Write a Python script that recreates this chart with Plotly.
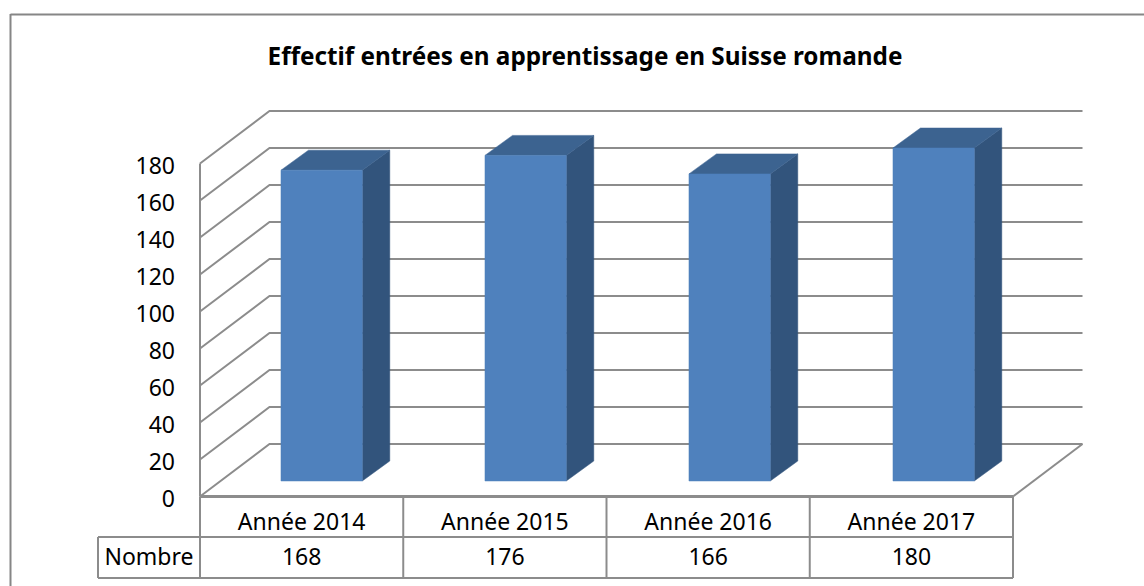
import plotly.graph_objects as go

title = "Effectif entrées en apprentissage en Suisse romande"
categories = ["Année 2014", "Année 2015", "Année 2016", "Année 2017"]
values = [168, 176, 166, 180]
row_label = "Nombre"
y_ticks = [0, 20, 40, 60, 80, 100, 120, 140, 160, 180]

W, H = 1144, 586
X0_PX, Y0_PX = 200.0, 496.5     # pixel of (category 0, value 0)
CAT_PX, VAL_PX = 203.25, 1.85   # pixels per category / per unit
DX, DY = 69.5 / CAT_PX, 52.5 / VAL_PX       # chart depth in data units
BAR_W = 0.4
BAR_PITCH = 204 / CAT_PX
BAR_SHIFT_X, BAR_SHIFT_Y = 20.0 / CAT_PX, 15.5 / VAL_PX
BAR_DX, BAR_DY = 27.5 / CAT_PX, 20 / VAL_PX
ROW1, ROW2 = -40.5 / VAL_PX, -81.5 / VAL_PX
ROW1_TEXT, ROW2_TEXT = -27.5 / VAL_PX, -62.5 / VAL_PX
LABEL_X = (98 - X0_PX) / CAT_PX

GRID = "#8c8c8c"
TEXT = "#000000"
FONT = "Noto Sans"
FRONT, TOP, SIDE = "#4f81bd", "#3c6390", "#32547c"

fig = go.Figure()


def line(xs, ys, width=2, color=GRID):
    fig.add_trace(go.Scatter(x=xs, y=ys, mode="lines", hoverinfo="skip", showlegend=False,
                             line=dict(color=color, width=width)))


def poly(xs, ys, color):
    fig.add_trace(go.Scatter(x=xs + xs[:1], y=ys + ys[:1], mode="lines", fill="toself",
                             fillcolor=color, hoverinfo="skip", showlegend=False,
                             line=dict(color=color, width=0.5)))


n = len(categories)
# walls and floor
for t in y_ticks:
    line([0, DX, n + DX], [t, t + DY, t + DY])
line([0, 0], [0, y_ticks[-1]])
line([n, n + DX], [0, DY])

# bars
for i, v in enumerate(values):
    x0 = i * BAR_PITCH + 0.5 - BAR_W / 2 + BAR_SHIFT_X
    x1 = x0 + BAR_W
    b, t = BAR_SHIFT_Y, BAR_SHIFT_Y + v
    poly([x1, x1 + BAR_DX, x1 + BAR_DX, x1], [b, b + BAR_DY, t + BAR_DY, t], SIDE)
    poly([x0, x1, x1 + BAR_DX, x0 + BAR_DX], [t, t, t + BAR_DY, t + BAR_DY], TOP)
    poly([x0, x1, x1, x0], [b, b, t, t], FRONT)

# data table
line([0, n], [0, 0], width=3)
line([LABEL_X, n], [ROW1, ROW1])
line([LABEL_X, n], [ROW2, ROW2])
line([LABEL_X, LABEL_X], [ROW1, ROW2])
for i in range(n + 1):
    line([i, i], [0, ROW2])

centers = [i + 0.5 for i in range(n)]
tfont = dict(family=FONT, size=23, color=TEXT)
fig.add_trace(go.Scatter(x=centers, y=[ROW1_TEXT] * n, mode="text", text=categories,
                         textposition="middle center", textfont=tfont,
                         hoverinfo="skip", showlegend=False))
fig.add_trace(go.Scatter(x=centers, y=[ROW2_TEXT] * n, mode="text",
                         text=[str(v) for v in values], textposition="middle center",
                         textfont=tfont, hoverinfo="skip", showlegend=False))
fig.add_trace(go.Scatter(x=[LABEL_X / 2], y=[ROW2_TEXT], mode="text", text=[row_label],
                         textposition="middle center", textfont=tfont,
                         hoverinfo="skip", showlegend=False))

fig.update_layout(
    width=W, height=H, margin=dict(l=0, r=0, t=0, b=0),
    paper_bgcolor="white", plot_bgcolor="white", showlegend=False,
    title=dict(text="<b>" + title + "</b>", x=585 / W, xanchor="center", y=1 - 56 / H,
               yanchor="middle", font=dict(family=FONT, size=24.3, color=TEXT)),
    xaxis=dict(visible=False, range=[-X0_PX / CAT_PX, (W - X0_PX) / CAT_PX]),
    yaxis=dict(range=[(Y0_PX - H) / VAL_PX, Y0_PX / VAL_PX], anchor="free", position=X0_PX / W,
               tickvals=y_ticks, ticks="", ticklabelstandoff=25, ticklabelshift=2, showgrid=False,
               zeroline=False, showline=False, tickfont=dict(family=FONT, size=23, color=TEXT)),
    shapes=[dict(type="line", xref="paper", yref="paper", x0=10.5 / W, x1=1, y0=1 - 14.5 / H, y1=1 - 14.5 / H,
                 line=dict(color="#868686", width=2)),
            dict(type="line", xref="paper", yref="paper", x0=10.5 / W, x1=10.5 / W, y0=0, y1=1 - 14 / H,
                 line=dict(color="#868686", width=2))],
)

fig.write_html("out.html", config=dict(displayModeBar=False),
               post_script="document.body.style.margin='0';")
